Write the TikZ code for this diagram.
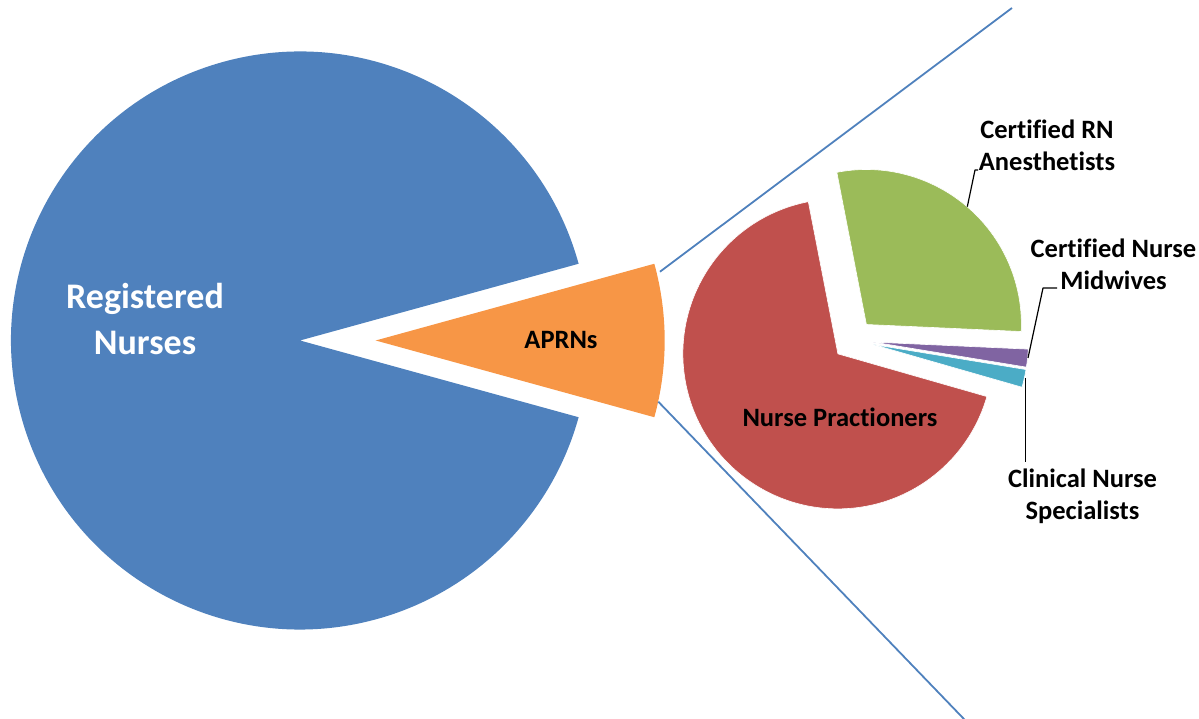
\documentclass[tikz,border=0pt]{standalone}
\usepackage{fontspec}
\setmainfont{Carlito}[Ligatures={NoCommon}]
\definecolor{cblue}{HTML}{4F81BD}
\definecolor{corange}{HTML}{F79646}
\definecolor{cred}{HTML}{C0504D}
\definecolor{cgreen}{HTML}{9BBB59}
\definecolor{cpurple}{HTML}{8064A2}
\definecolor{ccyan}{HTML}{4BACC6}
\begin{document}
\begin{tikzpicture}[x=1pt,y=1pt,line join=round]
\tikzset{
  slice/.style={draw=white, line width=0.6pt},
  lbl/.style={font=\bfseries\fontsize{26.5}{31.8}\selectfont, align=center, inner sep=0pt},
  biglbl/.style={font=\bfseries\fontsize{36}{46}\selectfont, align=center, inner sep=0pt, text=white},
  leader/.style={draw=black, line width=1.2pt},
  zoomline/.style={draw=cblue, line width=1.8pt}
}
\useasboundingbox (0,0) rectangle (1199,719);
% big pie
\coordinate (bc) at (300,378.5);
\fill[cblue] (bc) -- ++(15.4:289) arc[start angle=15.4,end angle=344.6,radius=289] -- cycle;
\coordinate (oc) at (375.7,378.5);
\fill[corange] (oc) -- ++(-15.4:289) arc[start angle=-15.4,end angle=15.4,radius=289] -- cycle;
% small pie
\coordinate (gc) at (866.4,394.5);
\filldraw[fill=cgreen,slice] (gc) -- ++(-2.6:155) arc[start angle=-2.6,end angle=101,radius=155] -- cycle;
\coordinate (rc) at (837.9,365.15);
\filldraw[fill=cred,slice] (rc) -- ++(101:155) arc[start angle=101,end angle=344,radius=155] -- cycle;
\coordinate (pc) at (873.4,376.9);
\filldraw[fill=cpurple,slice] (pc) -- ++(-9.3:155) arc[start angle=-9.3,end angle=-2.6,radius=155] -- cycle;
\coordinate (cc) at (873,374.5);
\filldraw[fill=ccyan,slice] (cc) -- ++(-16:155) arc[start angle=-16,end angle=-9.3,radius=155] -- cycle;
% connector lines
\coordinate (t1) at (660,447.3);
\coordinate (t2) at (1012,711);
\coordinate (b1) at (658.3,317.3);
\coordinate (b2) at (964.9,-1);
\draw[zoomline] (t1) -- (t2);
\draw[zoomline] (b1) -- (b2);
% labels
\node[biglbl] (rn) at (145,400) {Registered\\Nurses};
\node[lbl] (aprn) at (561,379) {APRNs};
\node[lbl] (np) at (840,302) {Nurse Practioners};
\node[lbl] (crna) at (1047,574) {Certified RN\\Anesthetists};
\node[lbl] (cnm) at (1113.5,455) {Certified Nurse\\Midwives};
\node[lbl] (cns) at (1082.5,222.5) {Clinical Nurse\\Specialists};
% leader lines
\coordinate (g1) at (967.3,512.3);
\coordinate (g2) at (975,549);
\coordinate (g3) at (978,549);
\draw[leader] (g1) -- (g2) -- (g3);
\coordinate (m1) at (1028,361);
\coordinate (m2) at (1043,431);
\coordinate (m3) at (1057,431);
\draw[leader] (m1) -- (m2) -- (m3);
\coordinate (s1) at (1025.7,341);
\coordinate (s2) at (1025.7,257);
\draw[leader] (s1) -- (s2);
\end{tikzpicture}
\end{document}
